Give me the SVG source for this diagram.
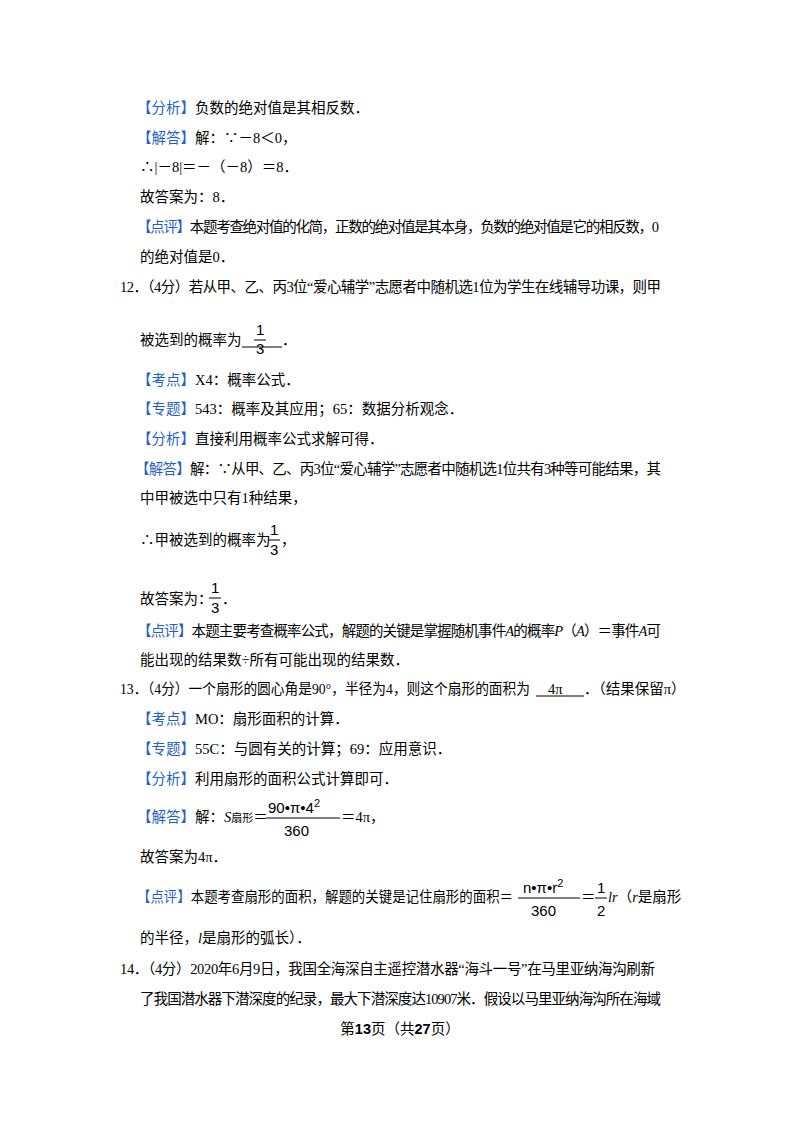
<svg xmlns="http://www.w3.org/2000/svg" width="800" height="1132" viewBox="0 0 800 1132">
<style>
text{font-family:"Liberation Serif","Noto Sans CJK SC",serif;font-size:14.5px;fill:#000}
.b{fill:#1f5fc8}
.f{font-family:"Liberation Sans","Noto Sans CJK SC",sans-serif;font-size:15px}
.i{font-style:italic}
line{stroke:#000;stroke-width:1}
</style>
<rect width="800" height="1132" fill="#fff"/>
<g id="q11">
<text x="137" y="113"><tspan class="b">【分析】</tspan>负数的绝对值是其相反数．</text>
<text x="137" y="143"><tspan class="b">【解答】</tspan>解：∵－8＜0，</text>
<text x="140" y="172">∴|－8|＝－（－8）＝8．</text>
<text x="140" y="202">故答案为：8．</text>
<text x="137" y="232" textLength="522" lengthAdjust="spacing"><tspan class="b">【点评】</tspan>本题考查绝对值的化简，正数的绝对值是其本身，负数的绝对值是它的相反数，0</text>
<text x="140" y="262">的绝对值是0．</text>
</g>
<g id="q12">
<text x="120" y="292" textLength="541" lengthAdjust="spacing">12．（4分）若从甲、乙、丙3位“爱心辅学”志愿者中随机选1位为学生在线辅导功课，则甲</text>
<text x="140" y="345">被选到的概率为</text>
<line x1="242" y1="347" x2="282" y2="347"/>
<text class="f" x="256" y="335">1</text><line x1="254" y1="340" x2="266" y2="340"/><text class="f" x="256" y="354">3</text>
<text x="282" y="345">．</text>
<text x="137" y="385"><tspan class="b">【考点】</tspan>X4：概率公式．</text>
<text x="137" y="414"><tspan class="b">【专题】</tspan>543：概率及其应用；65：数据分析观念．</text>
<text x="137" y="444"><tspan class="b">【分析】</tspan>直接利用概率公式求解可得．</text>
<text x="135" y="474" textLength="526" lengthAdjust="spacing"><tspan class="b">【解答】</tspan>解：∵从甲、乙、丙3位“爱心辅学”志愿者中随机选1位共有3种等可能结果，其</text>
<text x="140" y="503">中甲被选中只有1种结果，</text>
<text x="140" y="545">∴甲被选到的概率为</text>
<text class="f" x="270" y="535">1</text><line x1="268" y1="540" x2="280" y2="540"/><text class="f" x="270" y="555">3</text>
<text x="281" y="545">，</text>
<text x="140" y="604">故答案为：</text>
<text class="f" x="211" y="593">1</text><line x1="209" y1="598" x2="221" y2="598"/><text class="f" x="211" y="613">3</text>
<text x="222" y="604">．</text>
<text x="137" y="636" textLength="524" lengthAdjust="spacing"><tspan class="b">【点评】</tspan>本题主要考查概率公式，解题的关键是掌握随机事件<tspan class="i">A</tspan>的概率<tspan class="i">P</tspan>（<tspan class="i">A</tspan>）＝事件<tspan class="i">A</tspan>可</text>
<text x="140" y="665">能出现的结果数÷所有可能出现的结果数．</text>
</g>
<g id="q13">
<text x="120" y="694" textLength="410" lengthAdjust="spacingAndGlyphs">13．（4分）一个扇形的圆心角是90°，半径为4，则这个扇形的面积为</text>
<line x1="536" y1="696" x2="584" y2="696"/>
<text x="548" y="694">4π</text>
<text x="584" y="694">．（结果保留π）</text>
<text x="137" y="724"><tspan class="b">【考点】</tspan>MO：扇形面积的计算．</text>
<text x="137" y="754"><tspan class="b">【专题】</tspan>55C：与圆有关的计算；69：应用意识．</text>
<text x="137" y="784"><tspan class="b">【分析】</tspan>利用扇形的面积公式计算即可．</text>
<text x="137" y="822"><tspan class="b">【解答】</tspan>解：<tspan class="i">S</tspan><tspan font-size="11">扇形</tspan>＝</text>
<text class="f" x="268" y="813">90•π•4<tspan font-size="11" dy="-6">2</tspan></text>
<line x1="266" y1="818" x2="340" y2="818"/>
<text class="f" x="284" y="836">360</text>
<text x="341" y="822">＝4π，</text>
<text x="140" y="862">故答案为4π．</text>
<text x="137" y="902" textLength="376" lengthAdjust="spacingAndGlyphs"><tspan class="b">【点评】</tspan>本题考查扇形的面积，解题的关键是记住扇形的面积＝</text>
<text class="f" x="523" y="893">n•π•r<tspan font-size="11" dy="-6">2</tspan></text>
<line x1="518" y1="898" x2="580" y2="898"/>
<text class="f" x="531" y="916">360</text>
<text x="581" y="902">＝</text>
<text class="f" x="597" y="893">1</text><line x1="595" y1="898" x2="607" y2="898"/><text class="f" x="597" y="916">2</text>
<text x="608" y="902"><tspan class="i">lr</tspan>（<tspan class="i">r</tspan>是扇形</text>
<text x="140" y="943">的半径，<tspan class="i">l</tspan>是扇形的弧长）．</text>
</g>
<g id="q14">
<text x="120" y="974" textLength="535" lengthAdjust="spacing">14．（4分）2020年6月9日，我国全海深自主遥控潜水器“海斗一号”在马里亚纳海沟刷新</text>
<text x="140" y="1004" textLength="521" lengthAdjust="spacing">了我国潜水器下潜深度的纪录，最大下潜深度达10907米．假设以马里亚纳海沟所在海域</text>
</g>
<text x="400" y="1034" text-anchor="middle" font-size="13">第<tspan font-weight="bold" font-family="Liberation Sans">13</tspan>页（共<tspan font-weight="bold" font-family="Liberation Sans">27</tspan>页）</text>
</svg>
